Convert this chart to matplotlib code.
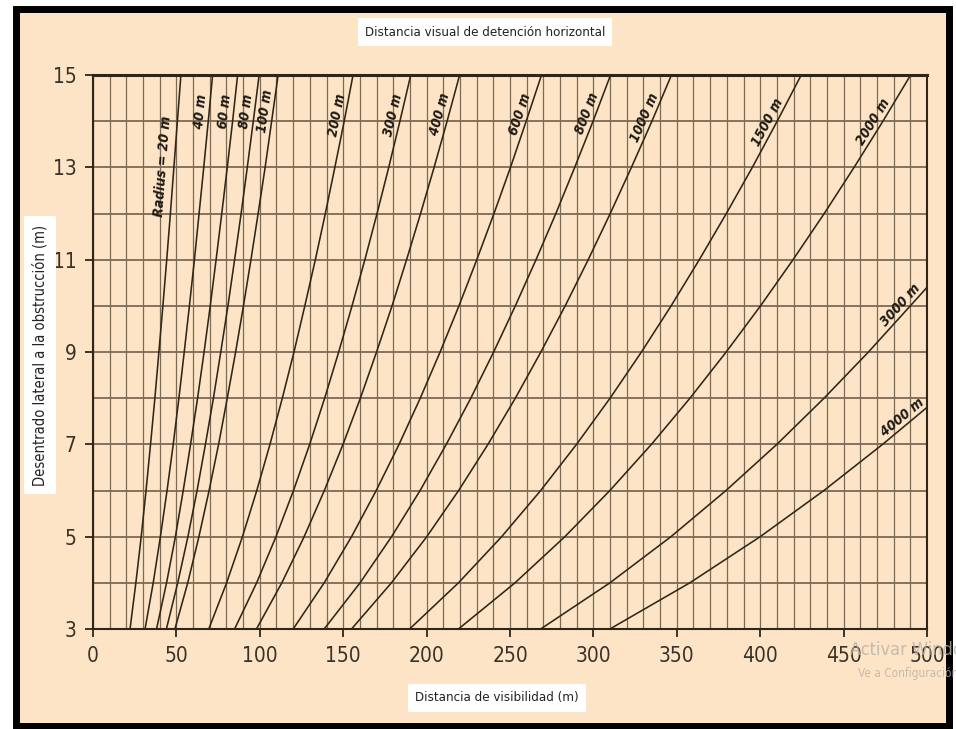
import numpy as np
import matplotlib.pyplot as plt
from matplotlib.patches import Rectangle

# lateral clearance (m) where the sight distance was read on each radius curve
offset = [3, 4, 5, 6, 7, 8, 9, 10, 11, 12, 13, 14, 15]

# sight distance (m) for each curve radius
r20 = [22.2, 25.7, 28.9, 31.8, 34.5, 37.1, 39.5, 41.9, 44.2, 46.4, 48.5, 50.6, 52.7]
r40 = [31.2, 36.1, 40.4, 44.4, 48.1, 51.5, 54.7, 57.8, 60.8, 63.6, 66.4, 69.1, 71.7]
r60 = [38.1, 44.1, 49.4, 54.1, 58.5, 62.7, 66.6, 70.3, 73.8, 77.2, 80.5, 83.7, 86.7]
r80 = [44.0, 50.8, 56.9, 62.4, 67.4, 72.2, 76.6, 80.9, 84.9, 88.8, 92.5, 96.1, 99.6]
r100 = [49.1, 56.8, 63.5, 69.6, 75.3, 80.5, 85.5, 90.2, 94.7, 99.0, 103.2, 107.1, 111.0]
r200 = [69.4, 80.1, 89.6, 98.2, 106.1, 113.5, 120.5, 127.0, 133.3, 139.3, 145.0, 150.6, 155.9]
r300 = [84.9, 98.1, 109.7, 120.2, 129.9, 138.9, 147.3, 155.3, 163.0, 170.3, 177.3, 184.0, 190.5]
r400 = [98.0, 113.2, 126.6, 138.7, 149.9, 160.3, 170.0, 179.3, 188.0, 196.4, 204.5, 212.3, 219.8]
r600 = [120.0, 138.6, 155.0, 169.8, 183.5, 196.2, 208.1, 219.4, 230.1, 240.4, 250.3, 259.7, 268.9]
r800 = [138.6, 160.1, 179.0, 196.1, 211.8, 226.5, 240.2, 253.2, 265.6, 277.5, 288.8, 299.8, 310.3]
r1000 = [155.0, 178.9, 200.1, 219.2, 236.8, 253.2, 268.5, 283.1, 296.9, 310.1, 322.8, 335.1, 346.8]
r1500 = [189.8, 219.1, 245.0, 268.4, 289.9, 310.0, 328.8, 346.6, 363.5, 379.7, 395.3, 410.2, 424.6]
r2000 = [219.1, 253.0, 282.9, 309.9, 334.8, 357.9, 379.6, 400.2, 419.7, 438.4, 456.3, 473.6, 490.2]

# the two flattest curves leave the chart on the right edge
offset_3000 = [3, 4, 5, 6, 7, 8, 9, 10, 10.4]
r3000 = [268.4, 309.9, 346.5, 379.5, 410.0, 438.3, 464.9, 490.0, 500.0]
offset_4000 = [3, 4, 5, 6, 7, 7.8]
r4000 = [309.9, 357.8, 400.0, 438.2, 473.4, 500.0]

curve_names = ['Radius = 20 m', '40 m', '60 m', '80 m', '100 m', '200 m', '300 m',
               '400 m', '600 m', '800 m', '1000 m', '1500 m', '2000 m', '3000 m', '4000 m']
curves = [(offset, r20), (offset, r40), (offset, r60), (offset, r80), (offset, r100),
          (offset, r200), (offset, r300), (offset, r400), (offset, r600), (offset, r800),
          (offset, r1000), (offset, r1500), (offset, r2000),
          (offset_3000, r3000), (offset_4000, r4000)]

# clearance at which each name is written along its curve, and gap to the line (pt)
label_at = [13.0, 14.2, 14.2, 14.2, 14.2, 14.1, 14.1, 14.1, 14.1, 14.1, 14.0, 13.9, 13.9, 9.9, 7.45]
label_gap = [3.0, 1.0, 1.0, 1.0, 1.0, 1.0, 1.0, 1.0, 1.0, 1.0, 1.0, 1.0, 1.0, 0.5, 0.5]

peach = '#fde4c6'
ink = '#2e2619'
gridc = '#7d6a55'

plt.rcParams['font.family'] = 'DejaVu Sans'
plt.rcParams['font.stretch'] = 'condensed'

fig = plt.figure(figsize=(9.56, 7.29), dpi=100, facecolor='white')

# black frame around the panel, kept under the axes
frame = Rectangle((15.5 / 956, 1 - 725.5 / 729), 933 / 956, 717 / 729,
                  transform=fig.transFigure, facecolor=peach,
                  edgecolor='black', lw=5, zorder=-10)
fig.patches.append(frame)

ax = fig.add_axes([93 / 956, 1 - 629 / 729, 834 / 956, 554 / 729], zorder=2)
ax.set_facecolor(peach)
ax.set_xlim(0, 500)
ax.set_ylim(3, 15)

ax.set_xticks(np.arange(0, 501, 50))
ax.set_xticks(np.arange(0, 501, 10), minor=True)
ax.set_yticks(np.arange(3, 16, 2))
ax.set_yticks(np.arange(3, 16, 1), minor=True)
ax.xaxis.grid(True, which='both', color=gridc, lw=0.9)
ax.yaxis.grid(True, which='both', color=gridc, lw=1.3)
ax.set_axisbelow(True)
ax.tick_params(which='minor', length=0)
ax.tick_params(which='major', length=6, width=1.3, color=ink, pad=6,
               labelsize=15, labelcolor='#3a3128')
for side in ['left', 'bottom', 'right']:
    ax.spines[side].set_color(ink)
    ax.spines[side].set_linewidth(1.5)
ax.spines['top'].set_color(ink)
ax.spines['top'].set_linewidth(2.2)

for (m, s) in curves:
    ax.plot(s, m, color=ink, lw=1.15, zorder=3)

# curve names written along each line
fig.canvas.draw()
for name, (m, s), at, gap in zip(curve_names, curves, label_at, label_gap):
    x0 = np.interp(at, m, s)
    x1 = np.interp(at - 0.3, m, s)
    x2 = np.interp(at + 0.3, m, s)
    p1 = ax.transData.transform((x1, at - 0.3))
    p2 = ax.transData.transform((x2, at + 0.3))
    ang = np.degrees(np.arctan2(p2[1] - p1[1], p2[0] - p1[0]))
    nx, ny = -np.sin(np.radians(ang)) * gap, np.cos(np.radians(ang)) * gap
    ax.annotate(name, (x0, at), xytext=(nx, ny), textcoords='offset points',
                rotation=ang, rotation_mode='anchor', ha='center', va='bottom',
                fontsize=10, fontweight='bold', style='italic',
                color='#1e1a14', zorder=4)

box = dict(boxstyle='square,pad=0.55', facecolor='white', edgecolor='none')
fig.text(485 / 956, 1 - 32 / 729, 'Distancia visual de detención horizontal',
         ha='center', va='center', fontsize=9.5, color='#222', bbox=box)
fig.text(497 / 956, 1 - 698 / 729, 'Distancia de visibilidad (m)',
         ha='center', va='center', fontsize=9.5, color='#222', bbox=box)
fig.text(40 / 956, 1 - 355 / 729, 'Desentrado lateral a la obstrucción (m)',
         ha='center', va='center', rotation=90, fontsize=10.5, color='#222', bbox=box)

# faint system watermark in the lower right corner
fig.text(850 / 956, 1 - 650 / 729, 'Activar Windows', ha='left', va='center',
         fontsize=13, color='#b9b0a6', alpha=0.8, zorder=5)
fig.text(858 / 956, 1 - 673 / 729, 'Ve a Configuración', ha='left', va='center',
         fontsize=8.5, color='#b9b0a6', alpha=0.8, zorder=5)

fig.savefig('out.png', dpi=100, facecolor='white')
